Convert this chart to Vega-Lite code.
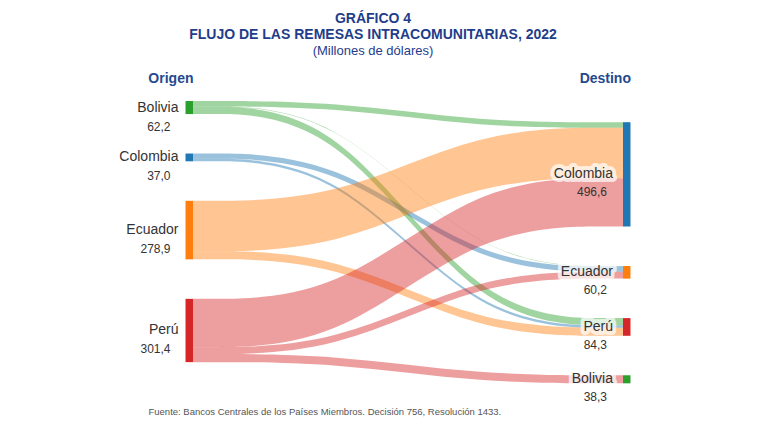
{
  "$schema": "https://vega.github.io/schema/vega-lite/v6.json",
  "width": 768,
  "height": 315,
  "autosize": {"type": "none"},
  "padding": {"left": 0, "right": 0, "top": 88, "bottom": 26},
  "background": "white",
  "config": {"view": {"stroke": null}, "font": "Liberation Sans"},
  "title": {
    "text": ["GRÁFICO 4", "FLUJO DE LAS REMESAS INTRACOMUNITARIAS, 2022"],
    "subtitle": "(Millones de dólares)",
    "anchor": "middle",
    "dx": -11,
    "fontSize": 14,
    "fontWeight": "bold",
    "color": "#1f3d8a",
    "subtitleFontSize": 13,
    "subtitleColor": "#1f3d8a",
    "offset": 13
  },
  "datasets": {
    "flujos": [
      {"origen": "Bolivia", "destino": "Colombia", "valor": 26.5},
      {"origen": "Bolivia", "destino": "Ecuador", "valor": 1.9},
      {"origen": "Bolivia", "destino": "Perú", "valor": 33.8},
      {"origen": "Colombia", "destino": "Ecuador", "valor": 25.3},
      {"origen": "Colombia", "destino": "Perú", "valor": 11.7},
      {"origen": "Ecuador", "destino": "Colombia", "valor": 240.0},
      {"origen": "Ecuador", "destino": "Perú", "valor": 38.9},
      {"origen": "Perú", "destino": "Colombia", "valor": 230.1},
      {"origen": "Perú", "destino": "Ecuador", "valor": 33.0},
      {"origen": "Perú", "destino": "Bolivia", "valor": 38.3}
    ],
    "nodos": [
      {"lado": "Origen", "pais": "Bolivia", "total": 62.2},
      {"lado": "Origen", "pais": "Colombia", "total": 37.0},
      {"lado": "Origen", "pais": "Ecuador", "total": 278.9},
      {"lado": "Origen", "pais": "Perú", "total": 301.4},
      {"lado": "Destino", "pais": "Colombia", "total": 496.6},
      {"lado": "Destino", "pais": "Ecuador", "total": 60.2},
      {"lado": "Destino", "pais": "Perú", "total": 84.3},
      {"lado": "Destino", "pais": "Bolivia", "total": 38.3}
    ]
  },
  "resolve": {"axis": {"x": "independent"}},
  "layer": [
    {
      "data": {"name": "flujos"},
      "transform": [
        {"calculate": "indexof(['Bolivia','Colombia','Ecuador','Perú'], datum.origen)", "as": "oOrd"},
        {"calculate": "indexof(['Colombia','Ecuador','Perú','Bolivia'], datum.destino)", "as": "dOrd"},
        {"stack": "valor", "groupby": [], "sort": [{"field": "oOrd"}, {"field": "dOrd"}], "as": ["accO", "finO"]},
        {"stack": "valor", "groupby": [], "sort": [{"field": "dOrd"}, {"field": "oOrd"}], "as": ["accD", "finD"]},
        {"calculate": "datum.accO + datum.oOrd * 188", "as": "p0"},
        {"calculate": "datum.p0", "as": "p1"},
        {"calculate": "datum.accD + datum.dOrd * 188 + 101", "as": "p3"},
        {"calculate": "datum.p3", "as": "p2"},
        {"calculate": "datum.origen + ' a ' + datum.destino", "as": "enlace"},
        {"fold": ["p0", "p1", "p2", "p3"], "as": ["punto", "sup"]},
        {"calculate": "indexof(['p0','p1','p2','p3'], datum.punto) / 3", "as": "col"},
        {"calculate": "datum.sup + datum.valor", "as": "inf"}
      ],
      "mark": {"type": "area", "interpolate": "basis", "fillOpacity": 0.45},
      "encoding": {
        "x": {
          "field": "col",
          "type": "quantitative",
          "scale": {"domain": [-0.4488, 1.3372], "nice": false, "zero": false},
          "axis": {
            "orient": "top",
            "values": [0, 1.0174],
            "labelExpr": "datum.value < 0.5 ? 'Origen' : 'Destino'",
            "labelAlign": "right",
            "labelFontSize": 14,
            "labelFontWeight": "bold",
            "labelColor": "#24498f",
            "labelPadding": 3,
            "ticks": false,
            "domain": false,
            "grid": false,
            "title": null
          }
        },
        "y": {
          "field": "sup",
          "type": "quantitative",
          "scale": {"domain": [-61.9, 1438.1], "reverse": true, "nice": false, "zero": false},
          "axis": null
        },
        "y2": {"field": "inf"},
        "detail": {"field": "enlace"},
        "color": {
          "field": "origen",
          "type": "nominal",
          "scale": {"domain": ["Bolivia", "Colombia", "Ecuador", "Perú"], "range": ["#2ca02c", "#1f77b4", "#ff7f0e", "#d62728"]},
          "legend": null
        }
      }
    },
    {
      "data": {"name": "nodos"},
      "transform": [
        {"calculate": "datum.lado == 'Origen' ? indexof(['Bolivia','Colombia','Ecuador','Perú'], datum.pais) : indexof(['Colombia','Ecuador','Perú','Bolivia'], datum.pais)", "as": "ord"},
        {"stack": "total", "groupby": ["lado"], "sort": [{"field": "ord"}], "as": ["acc", "fin"]},
        {"calculate": "datum.acc + datum.ord * 188 + (datum.lado == 'Destino' ? 101 : 0)", "as": "sup"},
        {"calculate": "datum.sup + datum.total", "as": "inf"},
        {"calculate": "datum.lado == 'Origen' ? -0.0174 : 1", "as": "x0"},
        {"calculate": "datum.x0 + 0.0174", "as": "x1"}
      ],
      "mark": {"type": "rect"},
      "encoding": {
        "x": {
          "field": "x0",
          "type": "quantitative",
          "axis": {
            "orient": "bottom",
            "labels": false,
            "ticks": false,
            "domain": false,
            "grid": false,
            "title": "Fuente: Bancos Centrales de los Países Miembros. Decisión 756, Resolución 1433.",
            "titleAnchor": "start",
            "titleAlign": "left",
            "titleX": 148,
            "titlePadding": 3,
            "titleFontSize": 9.5,
            "titleFontWeight": "normal",
            "titleColor": "#555555"
          }
        },
        "x2": {"field": "x1"},
        "y": {"field": "sup", "type": "quantitative"},
        "y2": {"field": "inf"},
        "color": {"field": "pais", "type": "nominal", "legend": null}
      }
    },
    {
      "data": {"name": "nodos"},
      "transform": [
        {"filter": "datum.lado == 'Origen'"},
        {"calculate": "indexof(['Bolivia','Colombia','Ecuador','Perú'], datum.pais)", "as": "ord"},
        {"stack": "total", "groupby": ["lado"], "sort": [{"field": "ord"}], "as": ["acc", "fin"]},
        {"calculate": "datum.acc + datum.ord * 188 + datum.total / 2", "as": "medio"},
        {"calculate": "-0.0174", "as": "x0"}
      ],
      "mark": {"type": "text", "align": "right", "baseline": "middle", "dx": -7, "fontSize": 14, "color": "#333333"},
      "encoding": {
        "x": {"field": "x0", "type": "quantitative", "axis": null},
        "y": {"field": "medio", "type": "quantitative"},
        "text": {"field": "pais"}
      }
    },
    {
      "data": {"name": "nodos"},
      "transform": [
        {"filter": "datum.lado == 'Origen'"},
        {"calculate": "indexof(['Bolivia','Colombia','Ecuador','Perú'], datum.pais)", "as": "ord"},
        {"stack": "total", "groupby": ["lado"], "sort": [{"field": "ord"}], "as": ["acc", "fin"]},
        {"calculate": "datum.acc + datum.ord * 188 + datum.total / 2", "as": "medio"},
        {"calculate": "-0.0174", "as": "x0"},
        {"calculate": "replace(format(datum.total, '.1f'), '.', ',')", "as": "etiqueta"}
      ],
      "mark": {"type": "text", "align": "right", "baseline": "middle", "dx": -15, "dy": 19, "fontSize": 12, "color": "#333333"},
      "encoding": {
        "x": {"field": "x0", "type": "quantitative", "axis": null},
        "y": {"field": "medio", "type": "quantitative"},
        "text": {"field": "etiqueta"}
      }
    },
    {
      "data": {"name": "nodos"},
      "transform": [
        {"filter": "datum.lado == 'Destino'"},
        {"calculate": "indexof(['Colombia','Ecuador','Perú','Bolivia'], datum.pais)", "as": "ord"},
        {"stack": "total", "groupby": ["lado"], "sort": [{"field": "ord"}], "as": ["acc", "fin"]},
        {"calculate": "datum.acc + datum.ord * 188 + 101 + datum.total / 2", "as": "medio"},
        {"calculate": "1", "as": "x0"}
      ],
      "mark": {"type": "text", "align": "right", "baseline": "middle", "dx": -10, "fontSize": 14, "color": "white", "stroke": "white", "strokeWidth": 8, "strokeJoin": "round", "opacity": 0.7},
      "encoding": {
        "x": {"field": "x0", "type": "quantitative", "axis": null},
        "y": {"field": "medio", "type": "quantitative"},
        "text": {"field": "pais"}
      }
    },
    {
      "data": {"name": "nodos"},
      "transform": [
        {"filter": "datum.lado == 'Destino'"},
        {"calculate": "indexof(['Colombia','Ecuador','Perú','Bolivia'], datum.pais)", "as": "ord"},
        {"stack": "total", "groupby": ["lado"], "sort": [{"field": "ord"}], "as": ["acc", "fin"]},
        {"calculate": "datum.acc + datum.ord * 188 + 101 + datum.total / 2", "as": "medio"},
        {"calculate": "1", "as": "x0"}
      ],
      "mark": {"type": "text", "align": "right", "baseline": "middle", "dx": -10, "fontSize": 14, "color": "#333333"},
      "encoding": {
        "x": {"field": "x0", "type": "quantitative", "axis": null},
        "y": {"field": "medio", "type": "quantitative"},
        "text": {"field": "pais"}
      }
    },
    {
      "data": {"name": "nodos"},
      "transform": [
        {"filter": "datum.lado == 'Destino'"},
        {"calculate": "indexof(['Colombia','Ecuador','Perú','Bolivia'], datum.pais)", "as": "ord"},
        {"stack": "total", "groupby": ["lado"], "sort": [{"field": "ord"}], "as": ["acc", "fin"]},
        {"calculate": "datum.acc + datum.ord * 188 + 101 + datum.total / 2", "as": "medio"},
        {"calculate": "1", "as": "x0"},
        {"calculate": "replace(format(datum.total, '.1f'), '.', ',')", "as": "etiqueta"}
      ],
      "mark": {"type": "text", "align": "right", "baseline": "middle", "dx": -16, "dy": 18, "fontSize": 12, "color": "#333333"},
      "encoding": {
        "x": {"field": "x0", "type": "quantitative", "axis": null},
        "y": {"field": "medio", "type": "quantitative"},
        "text": {"field": "etiqueta"}
      }
    }
  ]
}
